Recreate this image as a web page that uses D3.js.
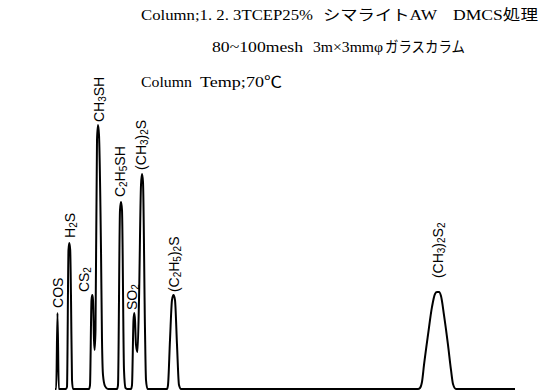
<!DOCTYPE html>
<html><head><meta charset="utf-8">
<script src="https://cdn.jsdelivr.net/npm/d3@7"></script>
<style>body{margin:0;background:#fff}svg{display:block}</style>
</head><body><svg id="c" width="539" height="391"></svg>
<script>
// Chromatogram trace: retention time (arb. min) and relative signal (%)
const traceTime = [0, 0.06, 0.125, 0.19, 0.55, 0.6, 0.675, 0.715, 0.76, 0.8, 0.85, 0.9,
  1.7, 1.75, 1.825, 1.865, 1.9, 1.95, 1.98, 2.025, 2.1, 2.15, 2.2, 2.3, 2.35, 2.4, 2.5, 2.65,
  3.1, 3.15, 3.25, 3.3, 3.35, 3.45, 3.525, 3.6,
  3.8, 3.85, 3.925, 3.965, 4.0, 4.05, 4.125, 4.2, 4.3, 4.35, 4.4, 4.5, 4.55, 4.625,
  5.6, 5.65, 5.75, 5.85, 5.925, 6.0, 6.1, 6.2, 6.3,
  18.15, 18.25, 18.35, 18.45, 18.65, 18.85, 19.0, 19.1, 19.2, 19.3, 19.45, 19.65, 19.8, 19.9, 20.05, 23];
const traceSignal = [0, 0, 28.8, 0, 0, 0.8, 52.7, 55.3, 52.7, 34.8, 3.4, 0,
  0, 1.5, 33.7, 35.6, 33.7, 18.6, 14.8, 22.3, 94.3, 100, 96.2, 52.7, 18.6, 5.3, 1.1, 0,
  0, 1.5, 67.8, 70.8, 67.8, 7.2, 0.4, 0,
  0, 1.5, 26.1, 28.8, 26.1, 16.7, 14.0, 33.7, 77.3, 81.4, 78.4, 22.3, 3.4, 0,
  0, 1.5, 18.6, 33.7, 35.6, 33.7, 16.7, 1.5, 0,
  0, 0.4, 2.7, 9.1, 20.5, 31.1, 36.0, 36.7, 36.7, 35.2, 28.0, 16.7, 7.2, 1.9, 0, 0];

// Peak labels (digits are subscripts) and where each label sits
const peakLabels = ["COS", "H2S", "CS2", "CH3SH", "C2H5SH", "SO2", "(CH3)2S", "(C2H5)2S", "(CH3)2S2"];
const labelTime = [0.125, 0.75, 1.45, 2.175, 3.25, 3.85, 4.3, 5.95, 19.15];
const labelSignal = [30.7, 57.2, 36.7, 101.1, 72.7, 29.9, 83, 36.7, 42];

// Header text
const headerLine1 = ["Column;1. 2. 3TCEP25%", "シマライトAW", "DMCS処理"];
const headerLine2 = ["80~100mesh", "3m×3mmφ", "ガラスカラム"];
const headerLine3 = ["Column", "Temp;70℃"];

const svg = d3.select("#c");
const x = d3.scaleLinear().domain([0, 23]).range([55, 515]);
const y = d3.scaleLinear().domain([0, 100]).range([389, 125]);

const pts = traceTime.map((t, i) => [t, traceSignal[i]]);
svg.append("path")
  .attr("d", d3.line().x(d => x(d[0])).y(d => y(d[1])).curve(d3.curveMonotoneX)(pts))
  .attr("fill", "none").attr("stroke", "#000").attr("stroke-width", 2)
  .attr("stroke-linejoin", "round");

// labels
peakLabels.forEach((lab, i) => {
  const t = svg.append("text")
    .attr("transform", `translate(${x(labelTime[i])},${y(labelSignal[i])}) rotate(-90)`)
    .attr("font-family", "'Liberation Sans', Arial, sans-serif")
    .attr("font-size", 14).attr("fill", "#000")
    .attr("dominant-baseline", "central");
  const parts = lab.match(/(\d+|[^\d]+)/g);
  let shifted = false;
  parts.forEach(p => {
    if (/^\d+$/.test(p)) {
      t.append("tspan").attr("font-size", 10).attr("dy", shifted ? 0 : 3).text(p);
      shifted = true;
    } else {
      t.append("tspan").attr("dy", shifted ? -3 : 0).text(p);
      shifted = false;
    }
  });
});

// header
const hf = "'Liberation Serif', 'Noto Sans CJK JP', serif";
function seg(txt, x0, x1, yb) {
  svg.append("text").attr("x", x0).attr("y", yb)
    .attr("font-family", hf).attr("font-size", 15).attr("fill", "#000")
    .attr("textLength", x1 - x0).attr("lengthAdjust", "spacingAndGlyphs")
    .text(txt);
}
seg(headerLine1[0], 141, 313, 20);
seg(headerLine1[1], 323, 437, 20);
seg(headerLine1[2], 453, 538, 20);
seg(headerLine2[0], 212, 303, 52);
seg(headerLine2[1], 313, 383, 52);
seg(headerLine2[2], 385, 465, 52);
seg(headerLine3[0], 141, 192, 87);
seg(headerLine3[1], 200, 282, 87);
</script></body></html>
